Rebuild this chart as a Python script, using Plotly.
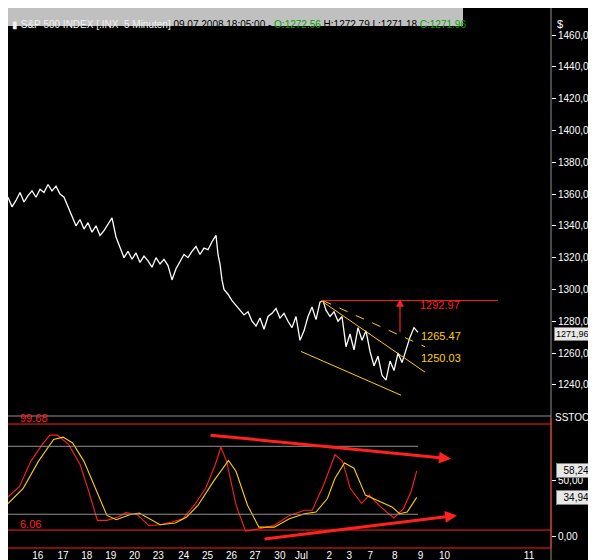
import plotly.graph_objects as go

# price path (x in bar units, price)
px_x = [0,4,8,12,16,20,24,28,32,36,40,44,48,52,56,60,64,68,72,76,80,84,88,92,96,100,104,108,112,116,120,124,128,132,136,140,144,148,152,156,160,164,168,172,176,180,184,188,192,196,200,204,208,210,212,214,216,220,224,228,232,236,240,244,248,252,256,260,264,268,272,276,280,284,288,292,296,300,304,308,312,315,318,322,326,330,334,338,342,346,350,354,358,362,366,370,374,378,382,386,390,394,398,402,406,410]
px_y = [1358,1352,1356,1361,1355,1359,1362,1358,1363,1361,1366,1362,1365,1360,1358,1352,1346,1340,1344,1338,1342,1336,1340,1334,1337,1341,1345,1333,1327,1320,1324,1319,1323,1317,1321,1318,1314,1320,1316,1319,1315,1306,1313,1318,1322,1320,1324,1327,1322,1326,1325,1330,1334,1322,1316,1306,1300,1297,1293,1290,1287,1284,1286,1280,1277,1282,1275,1283,1285,1288,1282,1285,1280,1276,1283,1268,1274,1283,1289,1281,1292,1293,1287,1283,1286,1280,1283,1264,1272,1262,1276,1268,1274,1261,1252,1258,1246,1243,1255,1249,1260,1254,1262,1270,1276,1273]

# slow stochastic lines
red_x = [0,11.4,22.8,34.2,41.8,49.4,60.8,72.2,79.8,89.4,98.9,110.3,117.9,129.3,140.7,152.1,163.5,174.9,186.3,197.7,207.2,212.9,218.6,228.1,237.6,250.9,266.2,281.4,296.6,304.2,315.6,327,334.6,342.2,353.6,361.2,372.6,385.9,395.4,403,408.7]
red_y = [35.4,44.4,66.7,81.5,89.9,89.9,81.5,63.7,42.9,14.6,14.6,17.6,21.4,19.6,10.1,10.7,13.1,16.1,28,42.9,63.7,79.2,66.7,28,5.1,7.1,10.1,19,23.5,23.5,45.8,72.6,66.7,42.9,29.5,36.9,26.5,16.7,25,39.9,58.2]
yel_x = [0,15.2,30.4,45.6,55.1,64.6,76,87.5,98.9,108.4,121.7,131.2,140.7,152.1,167.3,178.7,190.1,205.3,220.5,228.1,239.5,250.9,266.2,281.4,296.6,308,319.4,327,336.5,346,357.4,372.6,384,391.6,399.2,408.7]
yel_y = [29.5,42.9,66.7,86,88.1,83,66.7,42.9,19,15.2,19.6,21.1,16.1,10.7,12.2,17.6,28,48.8,67.6,57.7,28,8.6,8.6,16.1,20.5,22,33.9,51.8,65.2,60.7,36.9,31,26.5,20.5,22,34.9]

tick_pos = [29.7,55.1,78.7,102.7,126.6,150.2,175.7,199.6,223.6,247.1,271.9,293.5,321.3,341.4,362.4,386.7,412.5,436.5,521]
tick_txt = ["16","17","18","19","20","23","24","25","26","27","30","Jul","2","3","7","8","9","10","11"]
price_ticks = [1240,1260,1280,1300,1320,1340,1360,1380,1400,1420,1440,1460]

W, H = 596, 560
PR = 543 / W
F = "Liberation Sans, Arial, sans-serif"
FS = 10
BOT = 540  # bottom pixel of the oscillator panel

fig = go.Figure()
fig.add_trace(go.Scatter(x=px_x, y=px_y, mode="lines", line=dict(color="white", width=1.3), yaxis="y"))
fig.add_trace(go.Scatter(x=red_x, y=red_y, mode="lines", line=dict(color="#ff2020", width=1.1), yaxis="y2"))
fig.add_trace(go.Scatter(x=yel_x, y=yel_y, mode="lines", line=dict(color="#ffd000", width=1.1), yaxis="y2"))

shapes = []
def ln(x0, y0, x1, y1, yref, color, width=1, dash="solid"):
    shapes.append(dict(type="line", xref="x", yref=yref, x0=x0, y0=y0, x1=x1, y1=y1,
                       line=dict(color=color, width=width, dash=dash)))

ln(293, 1261, 393, 1233.5, "y", "#ffd000")
ln(313, 1293, 417, 1248, "y", "#ffd000")
ln(315, 1293, 417, 1264, "y", "#ffd000", 1, "dash")
ln(313, 1293, 490, 1293, "y", "#ff2020")
ln(0, 80, 410, 80, "y2", "#909090")
ln(0, 20, 410, 20, "y2", "#909090")
ln(0, 99.68, 543, 99.68, "y2", "#ff2020")
ln(0, 6.06, 543, 6.06, "y2", "#ff2020")
shapes.append(dict(type="line", xref="paper", yref="paper", x0=PR, x1=PR, y0=0, y1=1, line=dict(color="#909090", width=1)))
shapes.append(dict(type="rect", xref="paper", yref="paper", x0=0, x1=455/W, y0=(H-18)/H, y1=1, fillcolor="#c0c0c0", line=dict(width=0)))
shapes.append(dict(type="line", xref="paper", yref="paper", x0=0, x1=PR, y0=(H-408)/H, y1=(H-408)/H, line=dict(color="#909090", width=1)))
shapes.append(dict(type="line", xref="paper", yref="paper", x0=0, x1=PR, y0=(H-BOT)/H, y1=(H-BOT)/H, line=dict(color="#ff2020", width=1)))
shapes.append(dict(type="line", xref="paper", yref="paper", x0=PR, x1=PR, y0=(H-BOT)/H, y1=(H-410)/H, line=dict(color="#ff2020", width=1)))

ann = []
def txt(x, y, s, color, yref="y", size=11, xanchor="left", xref="x", bg=None):
    d = dict(x=x, y=y, xref=xref, yref=yref, text=s, showarrow=False, xanchor=xanchor,
             font=dict(color=color, size=size, family=F))
    if bg:
        d.update(bgcolor=bg, bordercolor="#808080", borderpad=1)
    ann.append(d)

txt(410, 1290, "1292.97", "#ff2020")
txt(411, 1271, "1265.47", "#ffd000")
txt(411, 1257, "1250.03", "#ffd000")
txt(10, 99.68 + 5, "99.68", "#ff2020", "y2")
txt(10, 6.06 + 5, "6.06", "#ff2020", "y2")
ann.append(dict(x=392, y=1294, ax=392, ay=1272, xref="x", yref="y", axref="x", ayref="y",
                showarrow=True, arrowhead=2, arrowsize=1.3, arrowwidth=1.2, arrowcolor="#ff2020", text=""))
ann.append(dict(x=443, y=69, ax=201, ay=90, xref="x", yref="y2", axref="x", ayref="y2",
                showarrow=True, arrowhead=2, arrowsize=0.8, arrowwidth=3, arrowcolor="#ff2020", text=""))
ann.append(dict(x=449, y=19, ax=255, ay=-2, xref="x", yref="y2", axref="x", ayref="y2",
                showarrow=True, arrowhead=2, arrowsize=0.8, arrowwidth=3, arrowcolor="#ff2020", text=""))
ann.append(dict(x=2/W, y=1 - 9/H, xref="paper", yref="paper", showarrow=False, xanchor="left",
                text="<span style='color:#f0f0f0'>▮ S&P 500 INDEX [.INX  5 Minuten]</span><span style='color:black'> 09.07.2008 18:05:00 - </span><span style='color:#00a000'>O:1272.56</span><span style='color:black'> H:1272.79 L:1271.18 </span><span style='color:#00a000'>C:1271.96</span>",
                font=dict(size=10, family=F)))
txt(547 / W, 1 - 8 / H, "$", "white", "paper", 11, xref="paper")
txt(545 / W, 1 - 417 / H, "SSTOC", "white", "paper", 10, xref="paper")
txt(546 / W, 1271.96, "1271,96", "black", "y", 9, xref="paper", bg="#e8e8e8")
txt(548 / W, 58.24, "  58,24   ", "black", "y2", 10, xref="paper", bg="#e8e8e8")
txt(548 / W, 34.94, "  34,94   ", "black", "y2", 10, xref="paper", bg="#e8e8e8")

fig.update_layout(
    width=W, height=H, margin=dict(l=0, r=0, t=0, b=0),
    paper_bgcolor="black", plot_bgcolor="black", showlegend=False,
    shapes=shapes, annotations=ann,
    xaxis=dict(domain=[0, PR], range=[0, 543], anchor="y2", tickvals=tick_pos, ticktext=tick_txt,
               showgrid=False, zeroline=False, ticks="", tickfont=dict(color="white", size=FS, family=F)),
    yaxis=dict(domain=[(H - 405) / H, (H - 18) / H], range=[1222.3, 1465.7], side="right",
               tickvals=price_ticks, ticktext=[f"{v:.2f}".replace(".", ",") for v in price_ticks],
               ticks="outside", ticklen=4, tickcolor="white", showgrid=False, zeroline=False,
               tickfont=dict(color="white", size=FS, family=F)),
    yaxis2=dict(domain=[(H - BOT) / H, (H - 410) / H], range=[-9.8, 105], side="right", anchor="x",
                tickvals=[0, 50], ticktext=["0,00", "50,00"], ticks="outside", ticklen=4, tickcolor="white",
                showgrid=False, zeroline=False, tickfont=dict(color="white", size=FS, family=F)),
)
fig.write_html("out.html")
